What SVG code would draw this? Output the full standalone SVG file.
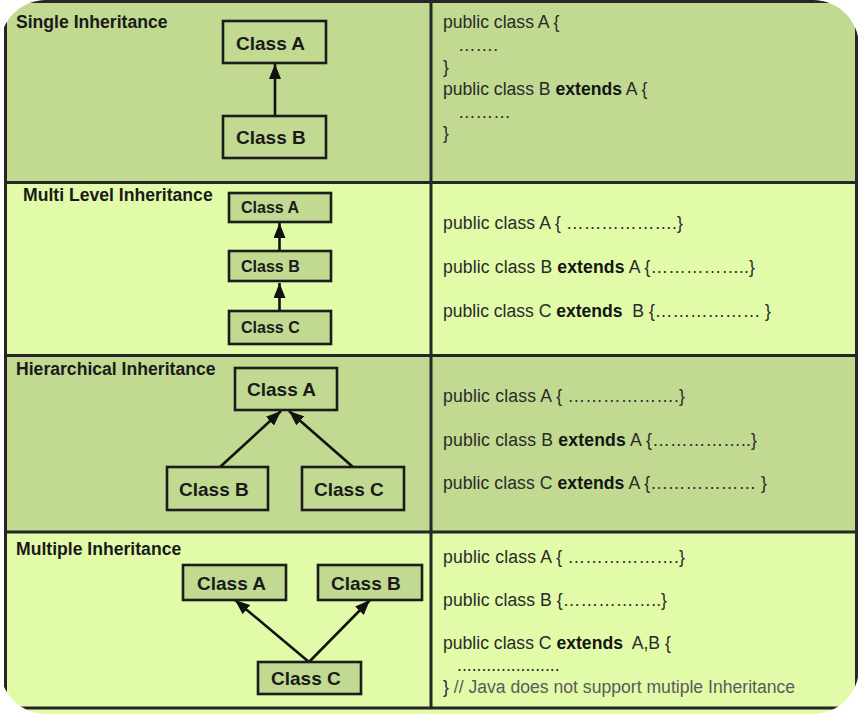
<svg xmlns="http://www.w3.org/2000/svg" width="859" height="714" viewBox="0 0 859 714">
<style>
.dark{fill:#c1d991}
.light{fill:#e2fba9}
.grid{stroke:#262626;stroke-width:3;fill:none}
.box{stroke:#1c1c1c;stroke-width:2.6;fill:none}
.boxf{stroke:#1c1c1c;stroke-width:2.6;fill:#c1d991}
.title{font-family:"Liberation Sans",Arial,sans-serif;font-weight:bold;font-size:17.6px;fill:#1a1a1a}
.cls{font-family:"Liberation Sans",Arial,sans-serif;font-weight:bold;font-size:19px;fill:#1a1a1a}
.cls2{font-family:"Liberation Sans",Arial,sans-serif;font-weight:bold;font-size:16px;fill:#1a1a1a}
.code{font-family:"Liberation Sans",Arial,sans-serif;font-size:17.6px;fill:#2a2a2a;white-space:pre}
.kw{font-weight:bold;fill:#141414}
.cmt{fill:#5a5a5a}
.conn{stroke:#111;stroke-width:2.6;fill:none;marker-end:url(#arr)}
</style>
<defs>
<clipPath id="clip"><rect x="0" y="0" width="859" height="714" rx="46" ry="46"/></clipPath>
<marker id="arr" viewBox="0 0 15 12" refX="15" refY="6" markerWidth="15" markerHeight="12" markerUnits="userSpaceOnUse" orient="auto">
<path d="M0,0 L15,6 L0,12 z" fill="#111"/>
</marker>
</defs>
<rect x="0" y="0" width="859" height="714" fill="#ffffff"/>
<g clip-path="url(#clip)">
<g id="backgrounds">
<rect class="dark" x="5" y="1" width="852" height="181"/>
<rect class="light" x="5" y="182" width="852" height="173"/>
<rect class="dark" x="5" y="355" width="852" height="177"/>
<rect class="light" x="5" y="532" width="852" height="182"/>
</g>
<g id="grid">
<rect class="grid" x="5.5" y="1.5" width="851" height="706.5"/>
<line class="grid" x1="5" y1="182.5" x2="857" y2="182.5"/>
<line class="grid" x1="5" y1="355.5" x2="857" y2="355.5"/>
<line class="grid" x1="5" y1="532" x2="857" y2="532"/>
<line class="grid" x1="431" y1="1" x2="431" y2="708"/>
</g>
</g>

<g id="titles">
<text class="title" x="16" y="28">Single Inheritance</text>
<text class="title" x="23" y="201">Multi Level Inheritance</text>
<text class="title" x="16" y="375">Hierarchical Inheritance</text>
<text class="title" x="16" y="555">Multiple Inheritance</text>
</g>

<g id="connectors">
<line class="conn" x1="275" y1="116" x2="275" y2="64"/>
<line class="conn" x1="279.5" y1="251" x2="279.5" y2="223"/>
<line class="conn" x1="279.5" y1="311" x2="279.5" y2="283"/>
<line class="conn" x1="220" y1="467" x2="281" y2="411"/>
<line class="conn" x1="353" y1="467" x2="289" y2="411"/>
<line class="conn" x1="309" y1="662" x2="235" y2="600"/>
<line class="conn" x1="309" y1="662" x2="370" y2="600"/>
</g>

<g id="single-A"><rect class="box" x="223" y="21" width="103" height="42"/><text class="cls" x="236" y="50">Class A</text></g>
<g id="single-B"><rect class="box" x="223" y="116" width="103" height="42"/><text class="cls" x="236" y="144">Class B</text></g>

<g id="multilevel-A"><rect class="boxf" x="229" y="193" width="102" height="29"/><text class="cls2" x="241" y="213">Class A</text></g>
<g id="multilevel-B"><rect class="boxf" x="229" y="251" width="102" height="30"/><text class="cls2" x="241" y="272">Class B</text></g>
<g id="multilevel-C"><rect class="boxf" x="229" y="311" width="102" height="33"/><text class="cls2" x="241" y="333">Class C</text></g>

<g id="hier-A"><rect class="box" x="235" y="368" width="102" height="42"/><text class="cls" x="247" y="396">Class A</text></g>
<g id="hier-B"><rect class="box" x="167" y="467" width="101" height="43"/><text class="cls" x="179" y="496">Class B</text></g>
<g id="hier-C"><rect class="box" x="302" y="467" width="102" height="43"/><text class="cls" x="314" y="496">Class C</text></g>

<g id="multiple-A"><rect class="boxf" x="183" y="565" width="103" height="35"/><text class="cls" x="197" y="590">Class A</text></g>
<g id="multiple-B"><rect class="boxf" x="318" y="565" width="104" height="35"/><text class="cls" x="331" y="590">Class B</text></g>
<g id="multiple-C"><rect class="boxf" x="258" y="662" width="103" height="32"/><text class="cls" x="271" y="685">Class C</text></g>

<g id="code-single">
<text class="code" x="443" y="28">public class A {</text>
<text class="code" x="458" y="51">&#8230;&#8230;.</text>
<text class="code" x="443" y="73">}</text>
<text class="code" x="443" y="95">public class B <tspan class="kw">extends</tspan> A {</text>
<text class="code" x="458" y="118">&#8230;&#8230;&#8230;</text>
<text class="code" x="443" y="139">}</text>
</g>
<g id="code-multilevel">
<text class="code" x="443" y="229" textLength="240" lengthAdjust="spacing">public class A { &#8230;&#8230;&#8230;&#8230;&#8230;&#8230;.}</text>
<text class="code" x="443" y="273" textLength="312" lengthAdjust="spacing">public class B <tspan class="kw">extends</tspan> A {&#8230;&#8230;&#8230;&#8230;&#8230;..}</text>
<text class="code" x="443" y="317" textLength="328" lengthAdjust="spacing" xml:space="preserve">public class C <tspan class="kw">extends</tspan>  B {&#8230;&#8230;&#8230;&#8230;&#8230;&#8230; }</text>
</g>
<g id="code-hierarchical">
<text class="code" x="443" y="402" textLength="242" lengthAdjust="spacing">public class A { &#8230;&#8230;&#8230;&#8230;&#8230;&#8230;.}</text>
<text class="code" x="443" y="446" textLength="314" lengthAdjust="spacing">public class B <tspan class="kw">extends</tspan> A {&#8230;&#8230;&#8230;&#8230;&#8230;..}</text>
<text class="code" x="443" y="489" textLength="324" lengthAdjust="spacing">public class C <tspan class="kw">extends</tspan> A {&#8230;&#8230;&#8230;&#8230;&#8230;&#8230; }</text>
</g>
<g id="code-multiple">
<text class="code" x="443" y="563" textLength="242" lengthAdjust="spacing">public class A { &#8230;&#8230;&#8230;&#8230;&#8230;&#8230;.}</text>
<text class="code" x="443" y="606" textLength="224" lengthAdjust="spacing">public class B {&#8230;&#8230;&#8230;&#8230;&#8230;..}</text>
<text class="code" x="443" y="649" xml:space="preserve">public class C <tspan class="kw">extends</tspan>  A,B {</text>
<text class="code" x="457" y="671">.....................</text>
<text class="code" x="443" y="693">} <tspan class="cmt">// Java does not support mutiple Inheritance</tspan></text>
</g>
</svg>
